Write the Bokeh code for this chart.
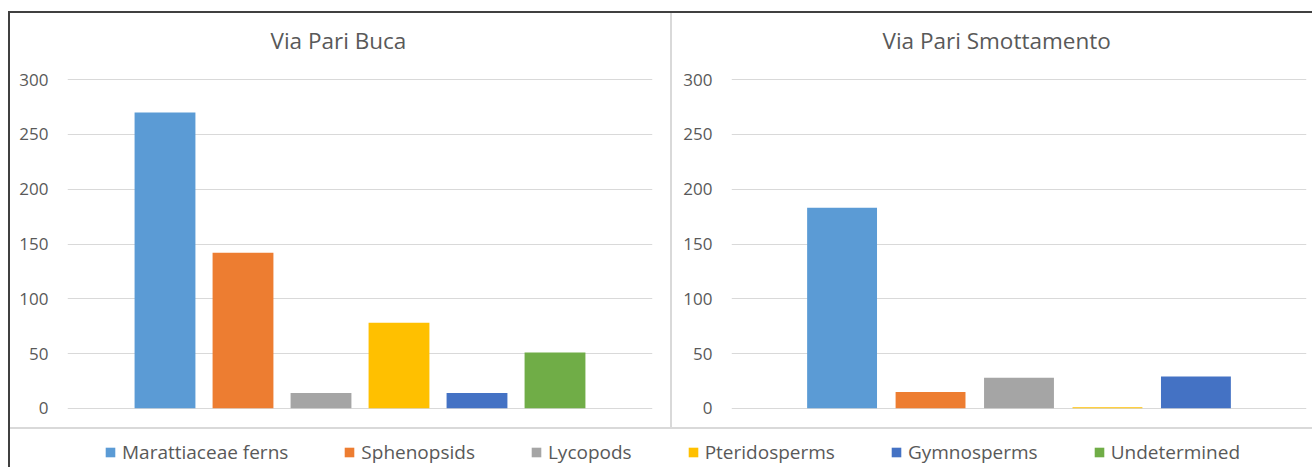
from bokeh.plotting import figure
from bokeh.models import Range1d, FixedTicker, Title, Legend, LegendItem, ColumnDataSource
from bokeh.layouts import column, row
from bokeh.embed import file_html
from bokeh.resources import INLINE

# ---- data ----
series = ["Marattiaceae ferns", "Sphenopsids", "Lycopods", "Pteridosperms", "Gymnosperms", "Undetermined"]
colors = ["#5B9BD5", "#ED7D31", "#A5A5A5", "#FFC000", "#4472C4", "#70AD47"]
buca_values = [270, 142, 14, 78, 14, 51]
smott_series = ["Marattiaceae ferns", "Sphenopsids", "Lycopods", "Pteridosperms", "Gymnosperms"]
smott_values = [183, 15, 28, 1, 29]
y_ticks = [0, 50, 100, 150, 200, 250, 300]
titles = ["Via Pari Buca", "Via Pari Smottamento"]

FONT = "Open Sans"
TXT = "#595959"
GRID = "#d9d9d9"


def panel(title, names, vals, width, border_left, frame_w, title_offset, bar_w):
    n = len(names)
    src = ColumnDataSource(dict(x=list(range(n)), top=vals, color=colors[:n], name=names))
    p = figure(width=width, height=428, output_backend="svg", toolbar_location=None,
               title=None, x_range=Range1d(-1.25, n + 0.25), y_range=Range1d(-2, 302),
               min_border_left=border_left, min_border_right=width - border_left - frame_w,
               min_border_top=76, min_border_bottom=18, x_axis_location=None)
    p.vbar(x="x", top="top", bottom=0, width=bar_w, fill_color="color",
           line_color=None, source=src)
    ax = p.yaxis[0]
    ax.ticker = FixedTicker(ticks=y_ticks)
    ax.axis_line_color = None
    ax.major_tick_line_color = None
    ax.minor_tick_line_color = None
    ax.major_tick_out = 0
    ax.major_tick_in = 0
    ax.major_label_standoff = 19
    ax.major_label_text_font = FONT
    ax.major_label_text_font_size = "17px"
    ax.major_label_text_color = TXT
    p.ygrid.ticker = FixedTicker(ticks=y_ticks)
    p.ygrid.grid_line_color = GRID
    p.ygrid.grid_line_width = 1
    p.xgrid.visible = False
    p.outline_line_color = None
    p.border_fill_color = None
    p.background_fill_color = None
    p.add_layout(Title(text=title, align="left", offset=title_offset, standoff=44,
                       text_font=FONT, text_font_size="22.5px", text_font_style="normal",
                       text_color=TXT), "above")
    return p


p1 = panel(titles[0], series, buca_values, 671, 67, 585, 203, 0.78)
p2 = panel(titles[1], smott_series, smott_values, 641, 60, 575, 151, 0.79)

# legend strip below both panels
lsrc = ColumnDataSource(dict(x=list(range(len(series))), color=colors, name=series))
lg = figure(width=1312, height=39, output_backend="svg", toolbar_location=None, title=None,
            x_axis_location=None, y_axis_location=None, min_border=0,
            x_range=Range1d(100, 101), y_range=Range1d(0, 1))
lg.outline_line_color = None
lg.border_fill_color = None
lg.background_fill_color = None
lg.xgrid.visible = False
lg.ygrid.visible = False
proxy = lg.vbar(x="x", top=0, bottom=0, width=0.5, fill_color="color", line_color=None,
                source=lsrc)
legend = Legend(items=[LegendItem(label=s, renderers=[proxy], index=i)
                       for i, s in enumerate(series)],
                orientation="horizontal", location=(104, 2), glyph_width=12, glyph_height=12,
                label_standoff=6, spacing=55, padding=0, margin=0,
                border_line_color=None, background_fill_alpha=0,
                label_text_font=FONT, label_text_font_size="19px", label_text_color=TXT)
lg.add_layout(legend)

styles = {
    "background-image": ", ".join(["linear-gradient(#404040, #404040)"] * 2 +
                                  ["linear-gradient(#d9d9d9, #d9d9d9)"] * 2),
    "background-size": "1304px 2px, 2px 456px, 2px 415px, 1302px 2px",
    "background-position": "8px 11px, 8px 11px, 670px 13px, 10px 427px",
    "background-repeat": "no-repeat",
}
layout = column(row(p1, p2), lg, styles=styles)

open("out.html", "w").write(file_html(layout, INLINE))
